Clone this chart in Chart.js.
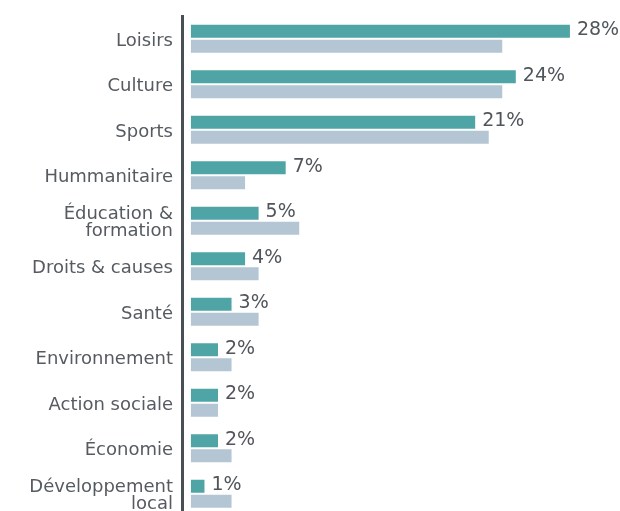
<!DOCTYPE html>
<html>
<head>
<meta charset="utf-8">
<script src="https://cdn.jsdelivr.net/npm/chart.js@4"></script>
<style>
  html, body { margin: 0; padding: 0; overflow: hidden; background: #fff; }
  .wrap { position: relative; width: 620px; height: 520px; }
</style>
</head>
<body>
<div class="wrap"><canvas id="chart"></canvas></div>
<script>
// Data
const categories = [
    'Loisirs', 'Culture', 'Sports', 'Hummanitaire', ['Éducation &', 'formation'],
    'Droits & causes', 'Santé', 'Environnement', 'Action sociale', 'Économie',
    ['Développement', 'local']
];
const shareMain = [28, 24, 21, 7, 5, 4, 3, 2, 2, 2, 1];
const shareCompare = [23, 23, 22, 4, 8, 5, 5, 3, 2, 3, 3];

const textColor = '#565b61';
const fontFamily = '"DejaVu Sans", sans-serif';

// Percent labels at the end of the teal bars
const valueLabels = {
    id: 'valueLabels',
    afterDatasetsDraw(chart) {
        const ctx = chart.ctx;
        const meta = chart.getDatasetMeta(0);
        ctx.save();
        ctx.font = '400 19px ' + fontFamily;
        ctx.fillStyle = '#50555b';
        ctx.textAlign = 'left';
        ctx.textBaseline = 'middle';
        meta.data.forEach((bar, i) => {
            ctx.fillText(shareMain[i] + '%', bar.x + 7, bar.y - 1);
        });
        ctx.restore();
    }
};

new Chart(document.getElementById('chart'), {
    type: 'bar',
    data: {
        labels: categories,
        datasets: [
            {
                data: shareMain,
                backgroundColor: '#4fa4a5',
                categoryPercentage: 0.66,
                barPercentage: 0.86
            },
            {
                data: shareCompare,
                backgroundColor: '#b4c6d3',
                categoryPercentage: 0.66,
                barPercentage: 0.86
            }
        ]
    },
    options: {
        indexAxis: 'y',
        responsive: true,
        maintainAspectRatio: false,
        animation: false,
        layout: { padding: { top: 16, right: 23, bottom: 3.5, left: 0 } },
        plugins: {
            legend: { display: false },
            tooltip: { enabled: false }
        },
        scales: {
            x: {
                display: false,
                min: -0.66,
                max: 30
            },
            y: {
                afterFit: (scale) => {
                    scale.width = 182;
                    scale.paddingTop = 0;
                    scale.paddingBottom = 0;
                },
                grid: { display: false, drawTicks: false },
                border: { display: true, color: '#4a4e55', width: 3 },
                ticks: {
                    padding: 9,
                    labelOffset: 2.5,
                    color: textColor,
                    font: { family: fontFamily, size: 18, lineHeight: 0.95 }
                }
            }
        }
    },
    plugins: [valueLabels]
});
</script>
</body>
</html>
